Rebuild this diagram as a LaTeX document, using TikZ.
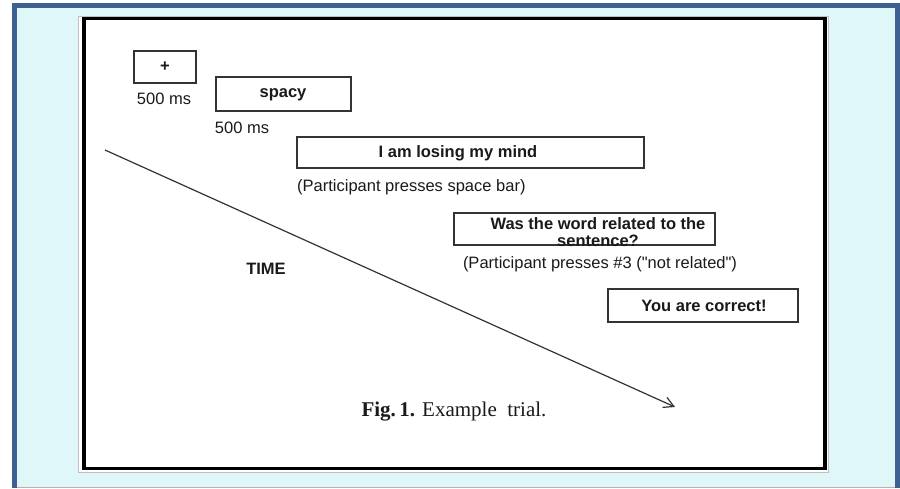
\documentclass[tikz,border=0pt]{standalone}
\usepackage{fontspec}
\setmainfont{Liberation Sans}
\newfontfamily\capfont{Liberation Serif}
\usetikzlibrary{arrows.meta}
\definecolor{bgcyan}{HTML}{E0F7F9}
\definecolor{frameblue}{HTML}{3C6192}
\definecolor{boxgray}{HTML}{333333}
\definecolor{txt}{HTML}{1A1A1A}
\begin{document}
\begin{tikzpicture}[x={(1pt,0)},y={(0,-1pt)},
  trialbox/.style={draw=boxgray,line width=1.4pt,inner sep=0pt,fill=white},
  lbl/.style={inner sep=0pt,text=txt,font=\fontsize{16.5}{17}\selectfont},
  blbl/.style={inner sep=0pt,text=txt,font=\fontsize{16.5}{17}\selectfont\bfseries}]
\useasboundingbox (0,0) rectangle (900,488);
% outer panel
\fill[bgcyan] (14,5) rectangle (900,487);
\draw[gray!60,line width=1pt] (14,487) -- (898,487);
\draw[frameblue,line width=5pt] (14.5,488) -- (14.5,5) -- (897.5,5) -- (897.5,488);
% inner page
\draw[gray!50,line width=1pt,fill=white] (78,16) rectangle (828,472);
\draw[black,line width=3.5pt] (84,18.5) rectangle (825,468.5);
% boxes
\node[trialbox,minimum width=62pt,minimum height=32pt] (plus) at (165,67) {};
\node[blbl] at (165,67) {+};
\node[lbl] (t1) at (164,99) {500 ms};
\node[trialbox,minimum width=135pt,minimum height=34pt] (spacy) at (283.5,94) {};
\node[blbl] at (283,95) {spacy};
\node[lbl] (t2) at (242,128) {500 ms};
\node[trialbox,minimum width=347pt,minimum height=31pt] (sent) at (470.5,152.5) {};
\node[blbl] at (458,153) {I am losing my mind};
\node[lbl,anchor=west] (p1) at (297,187) {(Participant presses space bar)};
\node[trialbox,minimum width=261pt,minimum height=32pt] (q) at (584.5,229) {};
\node[blbl,align=center] (qt) at (598,232) {Was the word related to the\\sentence?};
\node[lbl] (p2) at (600,264) {(Participant presses \#3 (\textquotedbl not related\textquotedbl)};
\node[trialbox,minimum width=190pt,minimum height=33pt] (fb) at (703,305.5) {};
\node[blbl] at (704,306) {You are correct!};
% time axis
\coordinate (a0) at (105,150);
\coordinate (a1) at (675,407);
\draw[boxgray,line width=1.2pt,-{Straight Barb[length=10pt,width=11pt,line width=1.2pt]}] (a0) -- (a1);
\node[blbl] (time) at (266,269) {TIME};
\node[inner sep=0pt,text=txt,font=\capfont\fontsize{21}{23}\selectfont] (cap) at (454,412) {\textbf{Fig.\,1.} Example\ \ trial.};
\end{tikzpicture}
\end{document}
